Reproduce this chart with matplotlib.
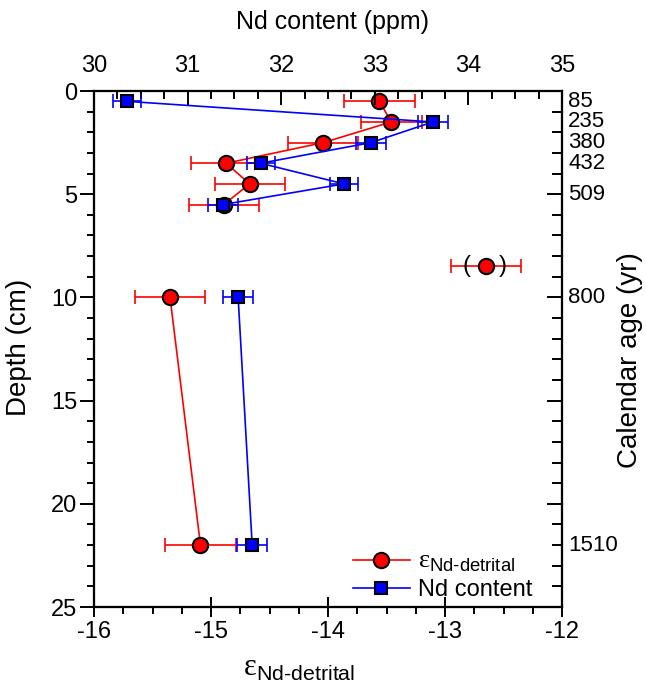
import matplotlib
matplotlib.use("Agg")
import matplotlib.pyplot as plt
from matplotlib.ticker import MultipleLocator, FixedLocator, NullFormatter

plt.rcParams["font.family"] = ["Liberation Sans", "DejaVu Sans"]
plt.rcParams["axes.unicode_minus"] = False
plt.rcParams["mathtext.fontset"] = "custom"
plt.rcParams["mathtext.rm"] = "Liberation Sans"
plt.rcParams["mathtext.it"] = "Liberation Sans:italic"
plt.rcParams["mathtext.bf"] = "Liberation Sans:bold"
plt.rcParams["mathtext.sf"] = "Liberation Serif"

# ======= data =======
depth = [0.5, 1.5, 2.5, 3.5, 4.5, 5.5, 10, 22]
eps_nd = [-13.56, -13.46, -14.04, -14.87, -14.67, -14.89, -15.35, -15.09]
eps_err = [0.30, 0.26, 0.30, 0.30, 0.30, 0.30, 0.30, 0.30]
nd_ppm = [30.35, 33.62, 32.96, 31.78, 32.67, 31.38, 31.54, 31.69]
nd_err = [0.15, 0.16, 0.16, 0.15, 0.15, 0.16, 0.16, 0.16]
split = 6  # no line between 5.5 cm and 10 cm

# outlier plotted in brackets
out_depth = [8.5]
out_eps = [-12.65]
out_err = [0.30]

age_depth = [0.5, 1.5, 2.5, 3.5, 5, 10, 22]
age_label = ["85", "235", "380", "432", "509", "800", "1510"]
# ===========================================

RED = "#ff0000"
BLUE = "#0000ff"
eps_label = r"$\mathsf{ε}_{\text{Nd-detrital}}$"

fig = plt.figure(figsize=(6.46, 6.89), dpi=100)
ax = fig.add_axes([94 / 646, 1 - 607 / 689, 468 / 646, 516 / 689])
ax2 = ax.twiny()
ax3 = ax.twinx()

mk_red = dict(color=RED, marker="o", ms=11, mfc=RED, mec="black", mew=1.5, lw=1.2)
mk_blue = dict(color=BLUE, marker="s", ms=9, mfc=BLUE, mec="black", mew=1.5, lw=1.2)
eb = dict(fmt="none", elinewidth=1.2, capsize=5, capthick=1.2)

# epsilon Nd (bottom axis)
ax.errorbar(eps_nd, depth, xerr=eps_err, ecolor=RED, **eb, zorder=2)
ax.errorbar(out_eps, out_depth, xerr=out_err, ecolor=RED, **eb, zorder=2)
h_red, = ax.plot(eps_nd[:split], depth[:split], zorder=3, **mk_red)
ax.plot(eps_nd[split:], depth[split:], zorder=3, **mk_red)
ax.plot(out_eps, out_depth, ls="none", zorder=3,
        **{k: v for k, v in mk_red.items() if k != "lw"})
for x, y in zip(out_eps, out_depth):
    ax.text(x - 0.17, y, "(", fontsize=17, ha="center", va="center")
    ax.text(x + 0.14, y, ")", fontsize=17, ha="center", va="center")

# Nd content (top axis)
ax2.errorbar(nd_ppm, depth, xerr=nd_err, ecolor=BLUE, **eb, zorder=2)
h_blue, = ax2.plot(nd_ppm[:split], depth[:split], zorder=3, **mk_blue)
ax2.plot(nd_ppm[split:], depth[split:], zorder=3, **mk_blue)

# axes limits / ticks
ax.set_xlim(-16, -12)
ax.set_ylim(25, 0)
ax2.set_xlim(30, 35)
ax3.set_ylim(25, 0)

ax.xaxis.set_major_locator(MultipleLocator(1))
ax.xaxis.set_minor_locator(MultipleLocator(0.25))
ax.yaxis.set_major_locator(MultipleLocator(5))
ax.yaxis.set_minor_locator(MultipleLocator(1))
ax2.xaxis.set_major_locator(MultipleLocator(1))
ax2.xaxis.set_minor_locator(MultipleLocator(0.25))
ax3.yaxis.set_major_locator(FixedLocator([5, 10, 15, 20]))
ax3.yaxis.set_minor_locator(MultipleLocator(1))
ax3.yaxis.set_major_formatter(NullFormatter())

ax.tick_params(axis="x", which="major", direction="inout", length=14, width=1.4,
               labelsize=17, pad=3)
ax.tick_params(axis="x", which="minor", direction="out", length=5, width=1.4)
ax.tick_params(axis="y", which="major", direction="out", length=10, width=1.4,
               labelsize=17, pad=2)
ax.tick_params(axis="y", which="minor", direction="out", length=5, width=1.4)
ax2.tick_params(axis="x", which="major", direction="in", length=10, width=1.4,
                labelsize=17, pad=10)
ax2.tick_params(axis="x", which="minor", direction="in", length=6, width=1.4)
ax3.tick_params(axis="y", which="major", direction="in", length=11, width=1.4)
ax3.tick_params(axis="y", which="minor", direction="in", length=7, width=1.4)

for a in (ax, ax2, ax3):
    for s in a.spines.values():
        s.set_linewidth(1.5)

# calendar ages on the right
tr = ax3.get_yaxis_transform()
for d, lab in zip(age_depth, age_label):
    ax3.text(1.013, d, lab, transform=tr, fontsize=16, ha="left", va="center")

# axis titles
fig.text(332 / 646, 1 - 22 / 689, "Nd content (ppm)", fontsize=18,
         ha="center", va="center")
fig.text(299 / 646, 1 - 668 / 689, eps_label, fontsize=22,
         ha="center", va="center")
fig.text(19 / 646, 1 - 347 / 689, "Depth (cm)", fontsize=20, rotation=90,
         ha="center", va="center")
fig.text(630 / 646, 1 - 360 / 689, "Calendar age (yr)", fontsize=20,
         rotation=90, ha="center", va="center")

leg = ax3.legend([h_red, h_blue], [eps_label, "Nd content"], loc="lower left",
                 bbox_to_anchor=((353 - 94) / 468, 0.012), frameon=False,
                 fontsize=17, handlelength=2.4, handletextpad=0.35,
                 labelspacing=0.2, borderpad=0, borderaxespad=0)
leg.get_texts()[0].set_fontsize(19)

fig.savefig("out.png", dpi=100)
